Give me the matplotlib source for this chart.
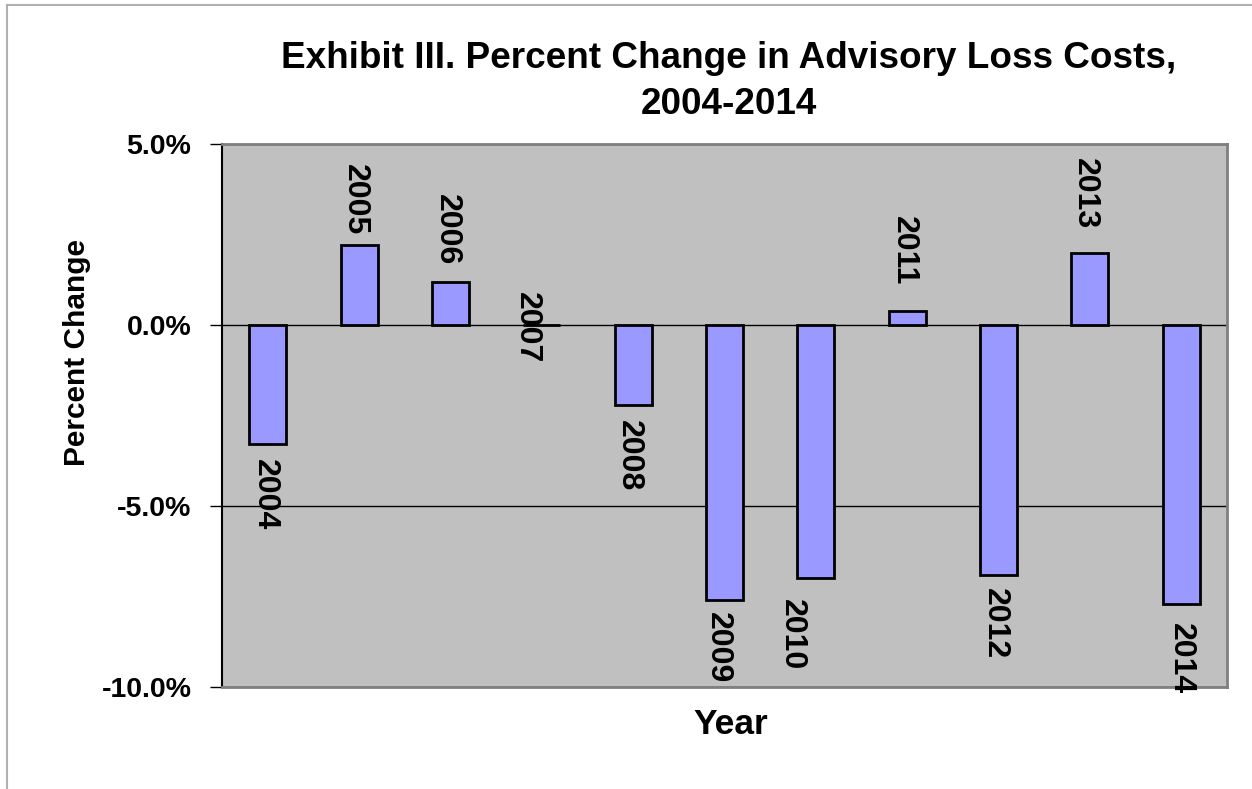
import matplotlib
matplotlib.use("Agg")
import matplotlib.pyplot as plt
import numpy as np
from matplotlib.lines import Line2D

plt.rcParams['font.family'] = ['Liberation Sans', 'DejaVu Sans']

# ---- data ----
years = ["2004", "2005", "2006", "2007", "2008", "2009", "2010", "2011", "2012", "2013", "2014"]
pct_change = [-3.3, 2.2, 1.2, 0.0, -2.2, -7.6, -7.0, 0.4, -6.9, 2.0, -7.7]
y_ticks = [-10, -5, 0, 5]
y_tick_labels = ["-10.0%", "-5.0%", "0.0%", "5.0%"]
title_lines = ["Exhibit III. Percent Change in Advisory Loss Costs,", "2004-2014"]
x_label = "Year"
y_label = "Percent Change"

# label nudges in pixels (dx, gap from bar end)
label_dx = [-3, -4, -4, -15, -4.5, -6.5, -24, -3, -3.5, -5, 0]
label_gap = [15, 10.5, 16.5, 0, 15, 12, 21, 25, 13, 23, 19]

W, H = 1252, 789
fig = plt.figure(figsize=(W / 100, H / 100), dpi=100)

# outer chart border
fig.add_artist(Line2D([7 / W, 7 / W], [0, 1 - 5 / H], transform=fig.transFigure,
                      color='#B0B0B0', lw=1.5))
fig.add_artist(Line2D([7 / W, 1], [1 - 5 / H, 1 - 5 / H], transform=fig.transFigure,
                      color='#B0B0B0', lw=1.5))

L, R, T, B = 222, 1227, 144, 687
ax = fig.add_axes([L / W, 1 - B / H, (R - L) / W, (B - T) / H])
ax.set_facecolor('#C0C0C0')

x = np.arange(len(years))
ax.bar(x, pct_change, width=0.405, color='#9999FF', edgecolor='black',
       linewidth=2, zorder=3)

ax.set_xlim(-0.5, len(years) - 0.5)
ax.set_ylim(-10, 5)
ax.set_yticks(y_ticks)
ax.set_yticklabels(y_tick_labels, fontsize=20.5, fontweight='bold')
ax.tick_params(axis='y', length=9, width=1, direction='out', pad=13, colors='black')
ax.tick_params(axis='x', bottom=False, labelbottom=False)
ax.yaxis.grid(True, color='black', lw=1)
ax.set_axisbelow(True)

for s in ['top', 'right', 'bottom']:
    ax.spines[s].set_color('#808080')
    ax.spines[s].set_linewidth(2)
ax.spines['left'].set_color('black')
ax.spines['left'].set_linewidth(1.5)

# data labels (category names) rotated
for i, (yr, v) in enumerate(zip(years, pct_change)):
    if v > 0:
        va, dy = 'bottom', label_gap[i]
    elif v < 0:
        va, dy = 'top', -label_gap[i]
    else:
        va, dy = 'center', -3
    ax.annotate(yr, xy=(x[i], v), xytext=(label_dx[i], dy), textcoords='offset pixels',
                rotation=-90, ha='center', va=va, fontsize=23, fontweight='bold',
                annotation_clip=False, zorder=4)

# titles and axis labels
fig.text(729 / W, 1 - 68 / H, title_lines[0], ha='center', va='baseline',
         fontsize=26.6, fontweight='bold')
fig.text(729 / W, 1 - 114 / H, title_lines[1], ha='center', va='baseline',
         fontsize=26.6, fontweight='bold')
fig.text(730.5 / W, 1 - 734 / H, x_label, ha='center', va='baseline',
         fontsize=25.5, fontweight='bold')
fig.text(77 / W, 1 - 353 / H, y_label, ha='center', va='center', rotation=90,
         fontsize=21.5, fontweight='bold')

fig.savefig("out.png", dpi=100)
